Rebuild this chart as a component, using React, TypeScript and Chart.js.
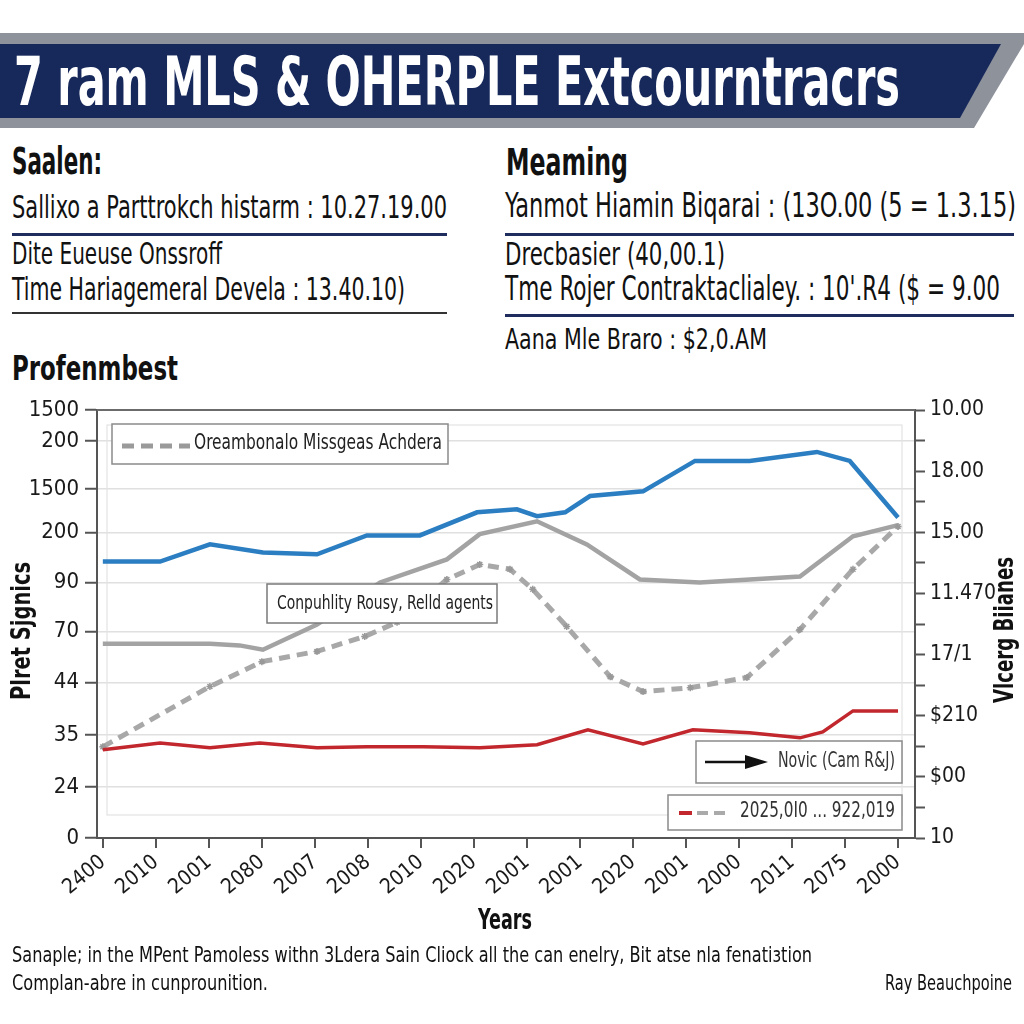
import React, { useEffect, useLayoutEffect, useRef } from 'react';
import { Chart, registerables } from 'chart.js';

Chart.register(...registerables);

const NARROW = "'Liberation Sans Narrow', 'Arial Narrow', 'DejaVu Sans Condensed', 'Liberation Sans', Arial, sans-serif";

// ---------- data ----------
const xLabels = ['2400', '2010', '2001', '2080', '2007', '2008', '2010', '2020', '2001', '2001', '2020', '2001', '2000', '2011', '2075', '2000'];

const leftTickValues = [0, 11.9, 24.1, 36.3, 48.2, 59.7, 71.4, 81.5, 92.7, 100];
const leftTickLabels = ['0', '24', '35', '44', '70', '90', '200', '1500', '200', '1500'];

const rightTickLabels = ['10', '', '$00', '', '$210', '', '17/1', '', '11.470', '', '15.00', '', '18.00', '', '10.00'];

const blueX = [0, 1.08, 2.02, 3.02, 4.04, 4.98, 5.98, 7.06, 7.81, 8.19, 8.72, 9.19, 10.19, 11.17, 12.2, 13.47, 14.09, 15];
const blueY = [64.6, 64.6, 68.6, 66.7, 66.3, 70.7, 70.7, 76.1, 76.8, 75.2, 76.1, 79.9, 81.0, 88.1, 88.1, 90.2, 88.1, 74.9];

const graySolidX = [0, 2.02, 2.58, 3.02, 4.04, 5.23, 6.49, 7.11, 8.19, 9.13, 10.13, 11.26, 13.15, 14.15, 15];
const graySolidY = [45.4, 45.4, 45.0, 44.0, 49.9, 59.7, 65.1, 71.0, 74.0, 68.6, 60.4, 59.7, 61.1, 70.5, 73.1];

const grayDashX = [0, 2.02, 3.0, 4.04, 4.94, 5.55, 6.49, 7.11, 7.68, 8.11, 8.75, 9.57, 10.19, 11.08, 12.15, 13.15, 14.15, 15];
const grayDashY = [21.3, 35.4, 41.2, 43.6, 47.1, 50.4, 60.4, 63.9, 62.8, 58.1, 49.4, 37.7, 34.2, 35.1, 37.5, 48.7, 62.8, 72.8];

const redX = [0, 1.08, 2.02, 2.96, 4.04, 4.98, 6.04, 7.11, 8.19, 9.15, 10.19, 11.13, 12.2, 13.15, 13.58, 14.15, 15];
const redY = [20.6, 22.2, 21.1, 22.2, 21.1, 21.3, 21.3, 21.1, 21.8, 25.3, 22.0, 25.3, 24.6, 23.4, 24.8, 29.7, 29.7];

const legendDashed = 'Oreambonalo Missgeas Achdera';
const legendMiddle = 'Conpuhlity Rousy, Relld agents';
const legendArrow = 'Novic (Cam R&J)';
const legendRange = '2025,0I0 ... 922,019';
const leftAxisTitle = 'Plret Sjgnics';
const rightAxisTitle = 'Vlcerg Biianes';

// ---------- helpers ----------
const toPts = (xs: number[], ys: number[]) => xs.map((x, i) => ({ x, y: ys[i] }));

function fitText(ctx: CanvasRenderingContext2D, text: string, x: number, y: number, width: number, font: string, color: string, rotate = 0) {
  ctx.save();
  ctx.font = font;
  ctx.fillStyle = color;
  ctx.textBaseline = 'middle';
  ctx.textAlign = 'left';
  const w = ctx.measureText(text).width || 1;
  ctx.translate(x, y);
  if (rotate) ctx.rotate(rotate);
  ctx.scale(width / w, 1);
  ctx.fillText(text, 0, 0);
  ctx.restore();
}

function box(ctx: CanvasRenderingContext2D, x: number, y: number, w: number, h: number, stroke = '#8a8a8a') {
  ctx.save();
  ctx.fillStyle = '#ffffff';
  ctx.fillRect(x, y, w, h);
  ctx.strokeStyle = stroke;
  ctx.lineWidth = 1.5;
  ctx.strokeRect(x, y, w, h);
  ctx.restore();
}

function seg(ctx: CanvasRenderingContext2D, x1: number, y1: number, x2: number, y2: number, color: string, width: number, dash: number[] = []) {
  ctx.save();
  ctx.strokeStyle = color;
  ctx.lineWidth = width;
  ctx.setLineDash(dash);
  ctx.beginPath();
  ctx.moveTo(x1, y1);
  ctx.lineTo(x2, y2);
  ctx.stroke();
  ctx.restore();
}

const overlayPlugin = {
  id: 'overlay',
  beforeDatasetsDraw(chart: any) {
    const ctx = chart.ctx as CanvasRenderingContext2D;
    ctx.save();
    ctx.strokeStyle = '#e3e3e3';
    ctx.lineWidth = 1.2;
    ctx.strokeRect(107, 425, 795, 390);
    ctx.restore();
  },
  afterDatasetsDraw(chart: any) {
    const ctx = chart.ctx as CanvasRenderingContext2D;
    const a = chart.chartArea;
    seg(ctx, a.left, a.top, a.right, a.top, '#6b6b6b', 2);

    // legend box 1
    box(ctx, 112, 424, 336, 40);
    seg(ctx, 122, 446, 190, 446, '#9a9a9a', 5, [12, 7]);
    fitText(ctx, legendDashed, 194, 443, 248, `22px ${NARROW}`, '#222');

    // legend box 2
    box(ctx, 267, 584, 230, 39, '#7a7a7a');
    fitText(ctx, legendMiddle, 277, 604, 216, `20px ${NARROW}`, '#222');

    // legend box 3 (arrow)
    box(ctx, 696, 741, 206, 42);
    seg(ctx, 705, 762, 750, 762, '#111', 2.5);
    ctx.save();
    ctx.fillStyle = '#111';
    ctx.beginPath();
    ctx.moveTo(745, 755);
    ctx.lineTo(768, 762);
    ctx.lineTo(745, 769);
    ctx.closePath();
    ctx.fill();
    ctx.restore();
    fitText(ctx, legendArrow, 778, 762, 117, `21px ${NARROW}`, '#333');

    // legend box 4
    box(ctx, 668, 795, 234, 35);
    seg(ctx, 679, 813, 692, 813, '#c1272d', 4);
    seg(ctx, 697, 813, 727, 813, '#aaaaaa', 4, [11, 6]);
    fitText(ctx, legendRange, 740, 812, 155, `21px ${NARROW}`, '#333');
  },
  afterDraw(chart: any) {
    const ctx = chart.ctx as CanvasRenderingContext2D;
    fitText(ctx, leftAxisTitle, 23, 700, 138, `bold 27px ${NARROW}`, '#111', -Math.PI / 2);
    fitText(ctx, rightAxisTitle, 1006, 703, 146, `bold 27px ${NARROW}`, '#111', -Math.PI / 2);
  },
};

// ---------- DOM text ----------
function FitText(props: { text: string; left: number; capTop: number; width: number; size: number; bold?: boolean; color?: string }) {
  const { text, left, capTop, width, size, bold, color } = props;
  const ref = useRef<HTMLSpanElement>(null);
  useLayoutEffect(() => {
    const el = ref.current;
    if (!el) return;
    el.style.transform = 'none';
    const w = el.getBoundingClientRect().width;
    if (w > 0) el.style.transform = `scaleX(${width / w})`;
  }, [text, width, size]);
  return (
    <span
      ref={ref}
      style={{
        position: 'absolute',
        left,
        top: capTop - 0.13 * size,
        fontSize: size,
        lineHeight: 1,
        fontWeight: bold ? 700 : 400,
        color: color || '#111',
        whiteSpace: 'nowrap',
        transformOrigin: 'left top',
        fontFamily: NARROW,
      }}
    >
      {text}
    </span>
  );
}

function Rule(props: { left: number; right: number; top: number; h: number; color: string }) {
  return <div style={{ position: 'absolute', left: props.left, top: props.top, width: props.right - props.left, height: props.h, background: props.color }} />;
}

export default function App() {
  const canvasRef = useRef<HTMLCanvasElement>(null);

  useEffect(() => {
    const canvas = canvasRef.current;
    if (!canvas) return;
    const chart = new Chart(canvas, {
      type: 'line',
      data: {
        datasets: [
          { label: 'red', data: toPts(redX, redY), borderColor: '#c1272d', borderWidth: 3.5, pointRadius: 0, tension: 0, yAxisID: 'y' },
          {
            label: 'dashed', data: toPts(grayDashX, grayDashY), borderColor: '#a8a8a8', borderWidth: 5, borderDash: [11, 7],
            pointRadius: 3.5, pointStyle: 'star', pointBorderColor: '#999', pointBorderWidth: 1.5, pointBackgroundColor: '#999', tension: 0, yAxisID: 'y',
          },
          { label: 'gray', data: toPts(graySolidX, graySolidY), borderColor: '#a3a3a3', borderWidth: 4.5, pointRadius: 0, tension: 0, yAxisID: 'y' },
          { label: 'blue', data: toPts(blueX, blueY), borderColor: '#2b7ec1', borderWidth: 4.5, pointRadius: 0, tension: 0, yAxisID: 'y' },
        ],
      },
      options: {
        animation: false,
        responsive: false,
        devicePixelRatio: 1,
        layout: { padding: { top: 410, left: 0, right: 0, bottom: 0 } },
        plugins: { legend: { display: false }, tooltip: { enabled: false } },
        scales: {
          x: {
            type: 'linear',
            min: -0.11,
            max: 15.32,
            afterBuildTicks: (s: any) => { s.ticks = xLabels.map((_, i) => ({ value: i })); },
            afterFit: (s: any) => { s.height = 186; },
            ticks: {
              autoSkip: false, minRotation: 40, maxRotation: 40, padding: 2,
              color: '#1a1a1a', font: { family: NARROW, size: 21 },
              callback: (v: any) => xLabels[v] ?? '',
            },
            grid: { drawOnChartArea: false, tickLength: 10, tickColor: '#555', lineWidth: 2 },
            border: { color: '#555', width: 2 },
          },
          y: {
            type: 'linear',
            position: 'left',
            min: 0,
            max: 100,
            afterBuildTicks: (s: any) => { s.ticks = leftTickValues.map((v) => ({ value: v })); },
            afterFit: (s: any) => { s.width = 97; },
            ticks: {
              padding: 6, color: '#1a1a1a', font: { family: NARROW, size: 22 },
              callback: (v: any) => { const i = leftTickValues.indexOf(v); return i >= 0 ? leftTickLabels[i] : ''; },
            },
            grid: { color: '#e0e0e0', lineWidth: 1.5, tickLength: 12, tickColor: '#555', tickWidth: 2 },
            border: { color: '#555', width: 2 },
          },
          y2: {
            type: 'linear',
            position: 'right',
            display: true,
            min: 0,
            max: 14,
            afterBuildTicks: (s: any) => { s.ticks = rightTickLabels.map((_, i) => ({ value: i })); },
            afterFit: (s: any) => { s.width = 109; },
            ticks: {
              padding: 5, color: '#1a1a1a', font: { family: NARROW, size: 21 },
              callback: (v: any) => rightTickLabels[v] ?? '',
            },
            grid: { drawOnChartArea: false, tickLength: 10, tickColor: '#555', tickWidth: 2 },
            border: { color: '#555', width: 2 },
          },
        },
      },
      plugins: [overlayPlugin],
    } as any);
    return () => chart.destroy();
  }, []);

  return (
    <div style={{ position: 'absolute', left: 0, top: 0, width: 1024, height: 1024, background: '#fff', overflow: 'hidden' }}>
      <svg width={1024} height={140} style={{ position: 'absolute', left: 0, top: 0 }}>
        <polygon points="0,33 1024,33 1024,44 974,128 0,128" fill="#8d929b" />
        <polygon points="0,44 1001,44 960,118 0,118" fill="#17295b" />
      </svg>
      <FitText text="7 ram MLS & OHERPLE Extcourntracrs" left={14} capTop={58} width={886} size={67} bold color="#ffffff" />

      <FitText text="Saalen:" left={12} capTop={148} width={90} size={37} bold />
      <FitText text="Sallixo a Parttrokch histarm : 10.27.19.00" left={12} capTop={195} width={435} size={32} />
      <Rule left={12} right={447} top={233} h={3} color="#1e2d5e" />
      <FitText text="Dite Eueuse Onssroff" left={12} capTop={242} width={210} size={31} />
      <FitText text="Time Hariagemeral Devela : 13.40.10)" left={12} capTop={277} width={393} size={32} />
      <Rule left={12} right={447} top={312} h={2} color="#333" />

      <FitText text="Meaming" left={506} capTop={149} width={122} size={37} bold />
      <FitText text="Yanmot Hiamin Biqarai : (13O.00 (5 = 1.3.15)" left={505} capTop={193} width={511} size={33} />
      <Rule left={505} right={1014} top={233} h={3} color="#1e2d5e" />
      <FitText text="Drecbasier (40,00.1)" left={505} capTop={242} width={220} size={32} />
      <FitText text="Tme Rojer Contraktaclialey. : 10'.R4 ($ = 9.00" left={505} capTop={276} width={495} size={33} />
      <Rule left={505} right={1014} top={314} h={3} color="#1e2d5e" />
      <FitText text="Aana Mle Braro : $2,0.AM" left={505} capTop={330} width={262} size={28} />

      <FitText text="Profenmbest" left={12} capTop={355} width={166} size={34} bold />

      <canvas ref={canvasRef} width={1024} height={1024} style={{ position: 'absolute', left: 0, top: 0 }} />

      <FitText text="Years" left={478} capTop={910} width={54} size={28} bold />
      <FitText text="Sanaple; in the MPent Pamoless withn 3Ldera Sain Cliock all the can enelry, Bit atse nla fenatiзtion" left={12} capTop={947} width={800} size={22} />
      <FitText text="Complan-abre in cunprounition." left={12} capTop={975} width={256} size={22} />
      <FitText text="Ray Beauchpoine" left={885} capTop={975} width={127} size={22} />
    </div>
  );
}
